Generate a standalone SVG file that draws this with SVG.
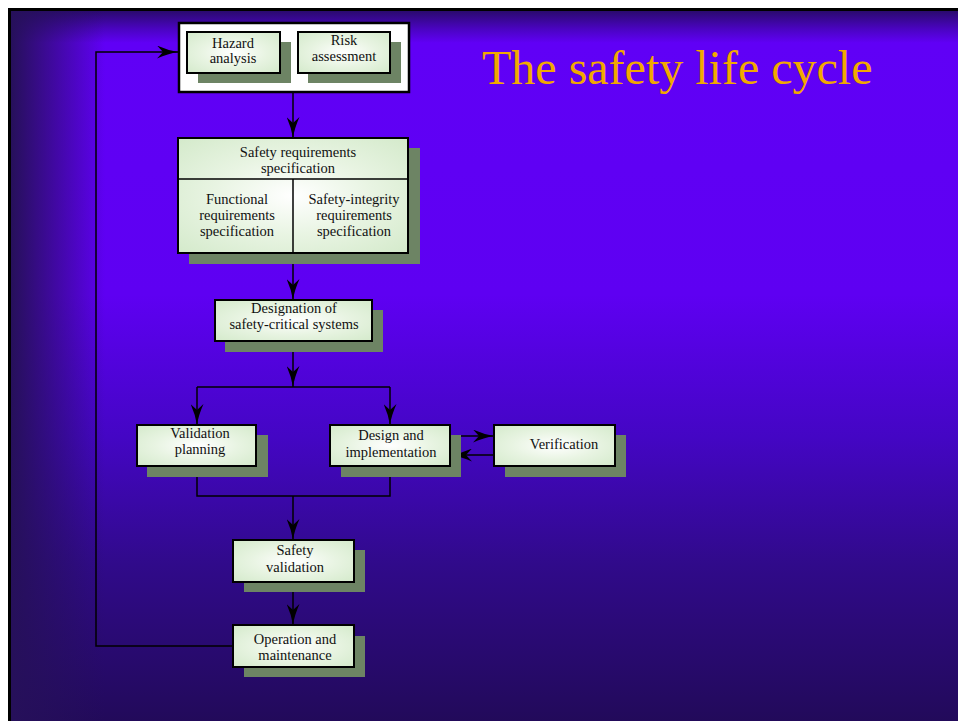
<svg xmlns="http://www.w3.org/2000/svg" width="958" height="721" viewBox="0 0 958 721">
<defs>
  <linearGradient id="bgV" x1="0" y1="11" x2="0" y2="721" gradientUnits="userSpaceOnUse">
    <stop offset="0" stop-color="#2a0a6e"/>
    <stop offset="0.025" stop-color="#4a04c0"/>
    <stop offset="0.045" stop-color="#6000f6"/>
    <stop offset="0.4" stop-color="#5e00f2"/>
    <stop offset="0.6" stop-color="#4406c4"/>
    <stop offset="0.78" stop-color="#300a8a"/>
    <stop offset="1" stop-color="#220a5a"/>
  </linearGradient>
  <linearGradient id="bgL" x1="11" y1="0" x2="105" y2="0" gradientUnits="userSpaceOnUse">
    <stop offset="0" stop-color="#26105a" stop-opacity="1"/>
    <stop offset="1" stop-color="#26105a" stop-opacity="0"/>
  </linearGradient>
  <radialGradient id="boxFill" cx="0.5" cy="0.5" r="0.7">
    <stop offset="0" stop-color="#ffffff"/>
    <stop offset="0.5" stop-color="#e8f4e2"/>
    <stop offset="1" stop-color="#d4eacb"/>
  </radialGradient>
  <marker id="arr" viewBox="0 0 21 13" refX="21" refY="6.5" markerWidth="21" markerHeight="13" markerUnits="userSpaceOnUse" orient="auto">
    <path d="M0,0 Q11,5 21,6.5 Q11,8 0,13 L6,6.5 Z" fill="#000"/>
  </marker>
</defs>
<style>
  .shadow { fill: #6d8464; }
  .box { fill: url(#boxFill); stroke: #000; stroke-width: 2; }
  .lbl { font-family: "Liberation Serif", "Times New Roman", serif; font-size: 14.5px; fill: #111; text-anchor: middle; }
  .conn { fill: none; stroke: #000; stroke-width: 1.5; }
  .title { font-family: "Liberation Serif", "Times New Roman", serif; font-size: 48px; fill: #f2a800; }
</style>

<!-- background -->
<rect x="0" y="0" width="958" height="721" fill="#ffffff"/>
<rect x="8" y="8" width="950" height="713" fill="#000000"/>
<rect x="11" y="11" width="947" height="710" fill="url(#bgV)"/>
<rect x="11" y="11" width="100" height="710" fill="url(#bgL)"/>

<text class="title" x="482" y="84">The safety life cycle</text>

<!-- connectors -->
<g id="connectors">
  <path class="conn" d="M293,92 V138" marker-end="url(#arr)"/>
  <path class="conn" d="M293,253 V300" marker-end="url(#arr)"/>
  <path class="conn" d="M293,341 V387" marker-end="url(#arr)"/>
  <path class="conn" d="M197,387 H390"/>
  <path class="conn" d="M197,387 V425" marker-end="url(#arr)"/>
  <path class="conn" d="M390,387 V425" marker-end="url(#arr)"/>
  <path class="conn" d="M197,466 V496 H390 V466"/>
  <path class="conn" d="M293,496 V540" marker-end="url(#arr)"/>
  <path class="conn" d="M293,582 V625" marker-end="url(#arr)"/>
  <path class="conn" d="M233,646 H96 V52 H178" marker-end="url(#arr)"/>
  <path class="conn" d="M451,436 H494" marker-end="url(#arr)"/>
  <path class="conn" d="M494,455 H451" marker-end="url(#arr)"/>
</g>

<!-- Hazard / Risk container -->
<g id="hazard-risk">
  <rect x="179" y="23" width="230" height="69" fill="#ffffff" stroke="#000" stroke-width="2.5"/>
  <g id="hazard">
    <rect class="shadow" x="198" y="42" width="93" height="41"/>
    <rect class="box" x="187" y="32" width="93" height="41"/>
    <text class="lbl" x="233" y="48">Hazard</text>
    <text class="lbl" x="233" y="63">analysis</text>
  </g>
  <g id="risk">
    <rect class="shadow" x="308" y="42" width="93" height="41"/>
    <rect class="box" x="298" y="32" width="92" height="41"/>
    <text class="lbl" x="344" y="45">Risk</text>
    <text class="lbl" x="344" y="61">assessment</text>
  </g>
</g>

<g id="safety-req">
  <rect class="shadow" x="189" y="148" width="231" height="116"/>
  <rect class="box" x="178" y="138" width="230" height="115"/>
  <line x1="178" y1="179" x2="408" y2="179" stroke="#000" stroke-width="1.5"/>
  <line x1="293" y1="179" x2="293" y2="253" stroke="#000" stroke-width="1.5"/>
  <text class="lbl" x="298" y="157">Safety requirements</text>
  <text class="lbl" x="298" y="173">specification</text>
  <text class="lbl" x="237" y="204">Functional</text>
  <text class="lbl" x="237" y="220">requirements</text>
  <text class="lbl" x="237" y="236">specification</text>
  <text class="lbl" x="354" y="204">Safety-integrity</text>
  <text class="lbl" x="354" y="220">requirements</text>
  <text class="lbl" x="354" y="236">specification</text>
</g>

<g id="designation">
  <rect class="shadow" x="225" y="310" width="158" height="42"/>
  <rect class="box" x="215" y="300" width="157" height="41"/>
  <text class="lbl" x="294" y="313">Designation of</text>
  <text class="lbl" x="294" y="329">safety-critical systems</text>
</g>

<g id="validation-planning">
  <rect class="shadow" x="147" y="435" width="121" height="42"/>
  <rect class="box" x="137" y="425" width="119" height="41"/>
  <text class="lbl" x="200" y="438">Validation</text>
  <text class="lbl" x="200" y="454">planning</text>
</g>

<g id="design-impl">
  <rect class="shadow" x="341" y="435" width="120" height="42"/>
  <rect class="box" x="330" y="425" width="120" height="41"/>
  <text class="lbl" x="391" y="440">Design and</text>
  <text class="lbl" x="391" y="457">implementation</text>
</g>

<g id="verification">
  <rect class="shadow" x="505" y="435" width="121" height="42"/>
  <rect class="box" x="494" y="425" width="121" height="41"/>
  <text class="lbl" x="564" y="449">Verification</text>
</g>

<g id="safety-validation">
  <rect class="shadow" x="244" y="550" width="121" height="42"/>
  <rect class="box" x="233" y="540" width="121" height="42"/>
  <text class="lbl" x="295" y="555">Safety</text>
  <text class="lbl" x="295" y="572">validation</text>
</g>

<g id="operation">
  <rect class="shadow" x="244" y="636" width="121" height="41"/>
  <rect class="box" x="233" y="625" width="121" height="42"/>
  <text class="lbl" x="295" y="644">Operation and</text>
  <text class="lbl" x="295" y="660">maintenance</text>
</g>
</svg>
